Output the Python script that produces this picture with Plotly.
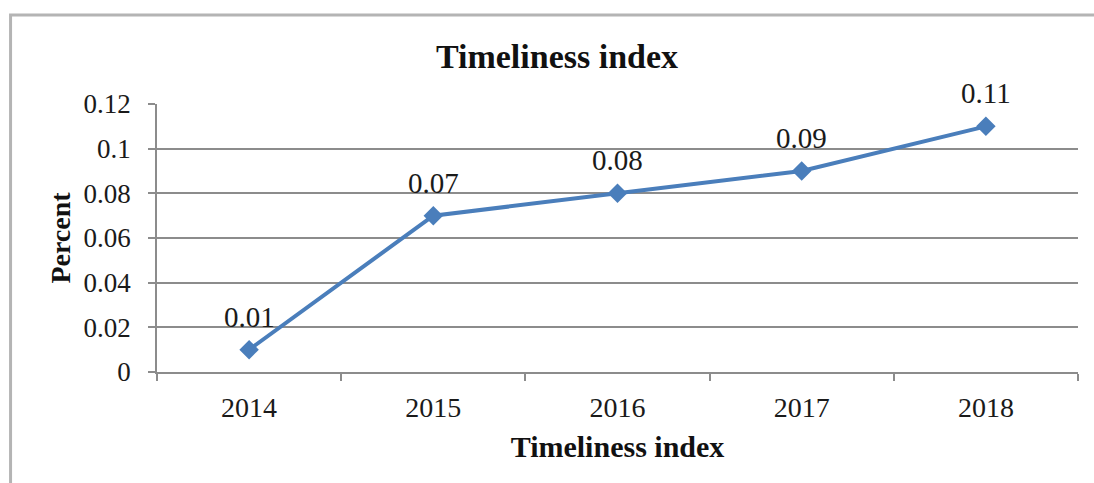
import plotly.graph_objects as go

# Timeliness index by year
years = ["2014", "2015", "2016", "2017", "2018"]
values = [0.01, 0.07, 0.08, 0.09, 0.11]
y_ticks = [0, 0.02, 0.04, 0.06, 0.08, 0.1, 0.12]

FONT = "Liberation Serif, Times New Roman, serif"
LINE_BLUE = "#4a7ebb"
GRID = "#8c8c8c"
WIDTH, HEIGHT = 1094, 483

fig = go.Figure()
fig.add_trace(go.Scatter(
    x=years,
    y=values,
    mode="lines+markers",
    line=dict(color=LINE_BLUE, width=4),
    marker=dict(symbol="diamond", size=15, color=LINE_BLUE),
    showlegend=False,
    hoverinfo="skip",
))

# value labels above each point (x given as category index)
for i, v in enumerate(values):
    fig.add_annotation(
        x=i, y=v, xref="x", yref="y", text=f"{v:g}", showarrow=False,
        yshift=33, font=dict(family=FONT, size=29, color="#1a1a1a"),
    )

# outer chart border
fig.add_shape(
    type="rect", xref="paper", yref="paper",
    x0=-0.159, x1=1.03, y0=-0.45, y1=1.332,
    line=dict(color="#b4b4b4", width=3), fillcolor="rgba(0,0,0,0)",
    layer="below",
)

fig.update_layout(
    width=WIDTH, height=HEIGHT,
    margin=dict(l=157, r=16, t=104, b=111),
    paper_bgcolor="white", plot_bgcolor="white",
    font=dict(family=FONT, color="#1a1a1a"),
    title=dict(
        text="<b>Timeliness index</b>",
        x=557 / WIDTH, xref="container", xanchor="center",
        y=1 - 56 / HEIGHT, yref="container", yanchor="middle",
        font=dict(family=FONT, size=34, color="#111111"),
    ),
    xaxis=dict(
        type="category",
        categoryorder="array", categoryarray=years,
        range=[-0.5, len(years) - 0.5],
        tickson="boundaries",
        ticks="outside", ticklen=7, tickwidth=1.5, tickcolor=GRID,
        showline=True, linecolor=GRID, linewidth=1.5,
        showgrid=False, zeroline=False,
        tickangle=0,
        ticklabelstandoff=10,
        tickfont=dict(family=FONT, size=28, color="#1a1a1a"),
        title=dict(text="<b>Timeliness index</b>", standoff=14,
                   font=dict(family=FONT, size=30, color="#111111")),
    ),
    yaxis=dict(
        range=[0, 0.12],
        tickvals=y_ticks,
        ticktext=[f"{t:g}" for t in y_ticks],
        ticks="outside", ticklen=7, tickwidth=1.5, tickcolor=GRID,
        showline=True, linecolor=GRID, linewidth=1.5,
        showgrid=True, gridcolor=GRID, gridwidth=1.5,
        zeroline=False,
        ticklabelstandoff=12,
        tickfont=dict(family=FONT, size=27, color="#1a1a1a"),
        title=dict(text="<b>Percent</b>", standoff=5,
                   font=dict(family=FONT, size=28, color="#111111")),
    ),
)

fig.write_html("out.html")
